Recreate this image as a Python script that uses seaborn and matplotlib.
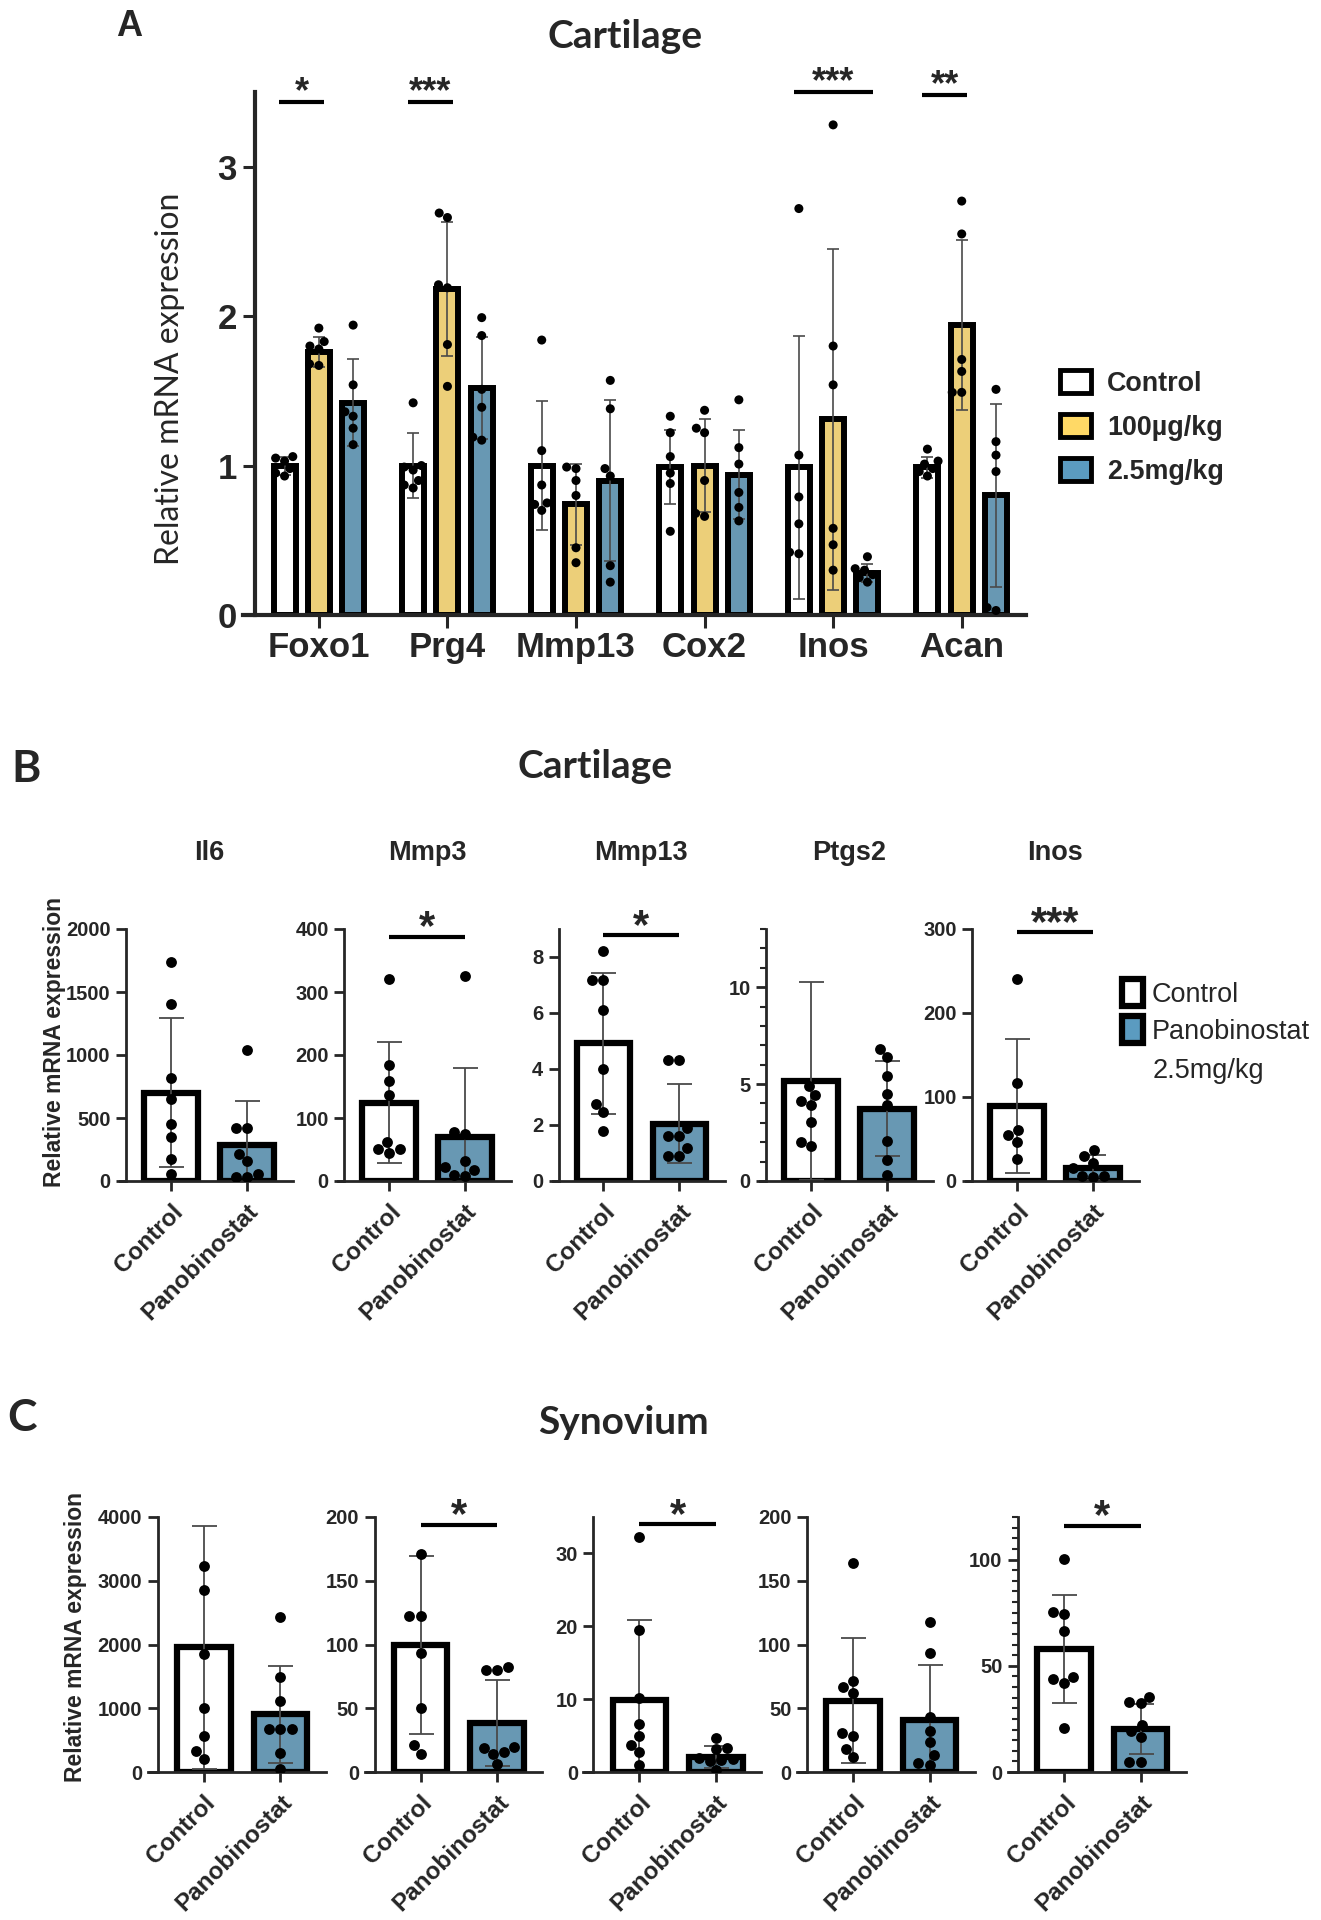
import pandas as pd
import seaborn as sns
import matplotlib.pyplot as plt
from matplotlib.patches import Patch
from matplotlib.ticker import MultipleLocator

# ==========================================
# DATA
# ==========================================

# Panel A - cartilage, three treatment groups
A_GENES = ["Foxo1", "Prg4", "Mmp13", "Cox2", "Inos", "Acan"]
A_GROUPS = ["Control", "100µg/kg", "2.5mg/kg"]

A_MEAN_CTRL = [1.00, 1.00, 1.00, 0.99, 0.99, 0.99]
A_MEAN_LOW = [1.76, 2.18, 0.74, 1.00, 1.31, 1.94]
A_MEAN_HIGH = [1.42, 1.52, 0.90, 0.94, 0.28, 0.80]

A_SD_CTRL = [0.06, 0.22, 0.43, 0.25, 0.88, 0.07]
A_SD_LOW = [0.10, 0.45, 0.27, 0.31, 1.14, 0.57]
A_SD_HIGH = [0.29, 0.34, 0.54, 0.30, 0.06, 0.61]

A_PTS_CTRL = [[1.06, 1.05, 1.03, 0.98, 0.95, 0.93],
              [1.42, 1.00, 0.99, 0.97, 0.90, 0.87, 0.85],
              [1.84, 1.10, 0.87, 0.75, 0.74, 0.70],
              [1.33, 1.22, 1.06, 0.95, 0.88, 0.56],
              [2.72, 1.07, 0.79, 0.61, 0.42, 0.41],
              [1.11, 1.03, 1.01, 0.98, 0.96, 0.93]]
A_PTS_LOW = [[1.92, 1.83, 1.80, 1.78, 1.68, 1.67],
             [2.69, 2.66, 2.21, 2.19, 1.81, 1.53],
             [0.99, 0.98, 0.90, 0.80, 0.45, 0.35],
             [1.37, 1.25, 1.22, 0.90, 0.68, 0.66],
             [3.28, 1.80, 1.54, 0.58, 0.47, 0.30],
             [2.77, 2.55, 1.71, 1.63, 1.49, 1.49]]
A_PTS_HIGH = [[1.94, 1.54, 1.36, 1.33, 1.25, 1.14],
              [1.99, 1.87, 1.51, 1.39, 1.19, 1.17],
              [1.57, 1.38, 0.98, 0.93, 0.33, 0.22],
              [1.44, 1.12, 1.01, 0.82, 0.72, 0.63],
              [0.39, 0.31, 0.30, 0.27, 0.25, 0.22],
              [1.51, 1.16, 1.07, 0.96, 0.05, 0.03]]

A_SIG_GENE = ["Foxo1", "Prg4", "Inos", "Acan"]
A_SIG_PAIR = [(0, 1), (0, 1), (0, 2), (0, 1)]
A_SIG_Y = [3.43, 3.43, 3.50, 3.48]
A_SIG_TEXT = ["*", "***", "***", "**"]

# Panels B/C - control vs panobinostat
PAIR = ["Control", "Panobinostat"]

B_GENES = ["Il6", "Mmp3", "Mmp13", "Ptgs2", "Inos"]
B_MEAN_CTRL = [702, 124, 4.92, 5.17, 89]
B_MEAN_PANO = [288, 70.6, 2.05, 3.74, 16]
B_SD_CTRL = [594, 96, 2.52, 5.1, 80]
B_SD_PANO = [349, 108, 1.42, 2.44, 15]
B_PTS_CTRL = [[1738, 1403, 815, 650, 454, 349, 178, 55],
              [320, 184, 158, 137, 62, 51, 51, 45],
              [8.21, 7.18, 7.18, 6.10, 3.99, 2.74, 2.46, 1.79],
              [4.90, 4.43, 4.14, 3.91, 3.05, 2.02, 1.78],
              [240, 117, 61, 54.5, 46.6, 26]]
B_PTS_PANO = [[1038, 422, 422, 218, 157, 55, 34, 34],
              [325, 78, 74, 31, 22, 18, 10, 8],
              [4.32, 4.32, 1.90, 1.61, 1.61, 1.19, 0.89, 0.89],
              [6.81, 6.38, 5.40, 4.47, 3.91, 2.07, 1.09, 0.31],
              [37, 30, 22, 15, 6, 6, 5]]
B_YMAX = [2000, 400, 9, 13, 300]
B_YSTEP = [500, 100, 2, 5, 100]
B_YMINOR = [None, None, None, 1, None]
B_SIG_Y = [None, 388, 8.77, None, 296]
B_SIG_TEXT = [None, "*", "*", None, "***"]

C_MEAN_CTRL = [1953, 99.5, 9.85, 55.8, 57.8]
C_MEAN_PANO = [909, 38.4, 2.06, 41, 20.3]
C_SD_CTRL = [1900, 70, 10.95, 49, 25.5]
C_SD_PANO = [760, 34, 1.5, 42.6, 11.7]
C_PTS_CTRL = [[3226, 2862, 1849, 1003, 561, 327, 197],
              [171, 122, 122, 93, 50, 21, 14],
              [32.2, 19.5, 10.1, 6.6, 4.9, 3.7, 2.7, 1.0],
              [164, 71.4, 67, 62.3, 30.4, 28, 18.2, 11.7],
              [100.3, 75.5, 74.5, 66.4, 44.8, 43.75, 41.7, 20.6]]
C_PTS_PANO = [[2431, 1486, 1107, 680, 680, 680, 291, 42],
              [82, 80, 80, 20, 19, 16, 14, 6],
              [4.6, 3.3, 3.1, 1.9, 1.8, 1.6, 1.5, 0.23],
              [118, 93, 43, 32.5, 23.4, 13.5, 7, 5.7],
              [35.5, 32.8, 32.3, 21.9, 19.5, 16.4, 4.7, 4.7]]
C_YMAX = [4000, 200, 35, 200, 120]
C_YSTEP = [1000, 50, 10, 50, 50]
C_YMINOR = [None, None, None, None, 5]
C_SIG_Y = [None, 194, 34, None, 116]
C_SIG_TEXT = [None, "*", "*", None, "*"]

# ==========================================
# STYLE / LAYOUT
# ==========================================
W, H = 1321, 1920
WHITE = "#FFFFFF"
YELLOW = "#FFD966"
BLUE = "#5B9BC0"
ERR_COLOR = "#4a4a4a"
TITLE_FONT = ["Lato", "DejaVu Sans"]

sns.set_theme(style="ticks")
plt.rcParams['font.family'] = ['Liberation Sans', 'DejaVu Sans']
plt.rcParams['font.weight'] = 'bold'


def rect(left, top, right, bottom):
    return [left / W, 1 - bottom / H, (right - left) / W, (bottom - top) / H]


def bold_ticks(ax):
    plt.setp(ax.get_xticklabels() + ax.get_yticklabels(), fontweight="bold")


def add_sig(ax, x0, x1, y, text, lw, size, lift):
    ax.plot([x0, x1], [y, y], color="black", lw=lw,
            solid_capstyle="butt", clip_on=False, zorder=4)
    ax.annotate(text, xy=((x0 + x1) / 2, y), xytext=(0, lift),
                textcoords="offset points", ha="center", va="baseline",
                fontsize=size, annotation_clip=False)


def panel_a(fig):
    ax = fig.add_axes(rect(243, 92, 1026, 615))

    rows = []
    for grp, means in zip(A_GROUPS, [A_MEAN_CTRL, A_MEAN_LOW, A_MEAN_HIGH]):
        for gene, m in zip(A_GENES, means):
            rows.append({"gene": gene, "group": grp, "value": m})
    bar_df = pd.DataFrame(rows)

    pts = []
    for grp, lists in zip(A_GROUPS, [A_PTS_CTRL, A_PTS_LOW, A_PTS_HIGH]):
        for gene, vals in zip(A_GENES, lists):
            for v in vals:
                pts.append({"gene": gene, "group": grp, "value": v})
    pts_df = pd.DataFrame(pts)

    sns.barplot(data=bar_df, x="gene", y="value", hue="group",
                order=A_GENES, hue_order=A_GROUPS,
                palette=[WHITE, YELLOW, BLUE], width=0.8, gap=0.36,
                edgecolor="black", linewidth=4.3, errorbar=None,
                legend=False, ax=ax, zorder=1)

    # SD error bars on top of the bars (patches are hue-major)
    sds = A_SD_CTRL + A_SD_LOW + A_SD_HIGH
    for p, sd in zip(ax.patches, sds):
        ax.errorbar(p.get_x() + p.get_width() / 2, p.get_height(), yerr=sd,
                    fmt="none", ecolor=ERR_COLOR, elinewidth=1.2,
                    capsize=4.3, capthick=1.2, zorder=2)

    sns.swarmplot(data=pts_df, x="gene", y="value", hue="group",
                  order=A_GENES, hue_order=A_GROUPS, dodge=True,
                  palette={g: "black" for g in A_GROUPS}, size=6.5,
                  legend=False, ax=ax, zorder=3)

    ax.set_xlim(-0.59, 5.5)
    ax.set_ylim(0, 3.5)
    ax.spines[["top", "right"]].set_visible(False)
    ax.spines[["left", "bottom"]].set_linewidth(3)
    ax.spines["left"].set_position(("data", -0.5))
    ax.set_yticks([0, 1, 2, 3])
    ax.set_xticks(range(len(A_GENES)), A_GENES)
    ax.tick_params(axis="both", direction="out", width=2.2, labelsize=25)
    ax.tick_params(axis="y", length=8.6, pad=4)
    ax.tick_params(axis="x", length=9.4, pad=2)
    bold_ticks(ax)
    ax.set_xlabel("")
    ax.set_ylabel("Relative mRNA expression", fontsize=23,
                  family=TITLE_FONT, fontweight="normal")
    ax.yaxis.label.set_va("center")
    ax.yaxis.set_label_coords(-0.0932, 0.452)

    step = 0.8 / len(A_GROUPS)
    for gene, (h0, h1), y, txt in zip(A_SIG_GENE, A_SIG_PAIR, A_SIG_Y, A_SIG_TEXT):
        gi = A_GENES.index(gene)
        x0 = gi + (h0 - 1) * step - 0.04
        x1 = gi + (h1 - 1) * step + 0.04
        add_sig(ax, x0, x1, y, txt, lw=3, size=26, lift=0)

    handles = [Patch(facecolor=c, edgecolor="black", linewidth=3.5)
               for c in [WHITE, YELLOW, BLUE]]
    fig.legend(handles, A_GROUPS, loc="upper left",
               bbox_to_anchor=(1060 / W, 1 - 370 / H), frameon=False,
               prop={"weight": "bold", "size": 19.4}, handlelength=1.15,
               handleheight=0.96, handletextpad=0.6, labelspacing=0.63,
               borderpad=0, borderaxespad=0)


def pair_panel(ax, mean_c, mean_p, sd_c, sd_p, pts_c, pts_p,
               ymax, ystep, yminor, sig_y, sig_txt, xlim, spine_x):
    bar_df = pd.DataFrame({"group": PAIR, "value": [mean_c, mean_p]})
    sns.barplot(data=bar_df, x="group", y="value", hue="group",
                order=PAIR, hue_order=PAIR, palette=[WHITE, BLUE],
                width=0.7, edgecolor="black", linewidth=4.5,
                errorbar=None, legend=False, ax=ax, zorder=1)
    for p, sd in zip(ax.patches, [sd_c, sd_p]):
        ax.errorbar(p.get_x() + p.get_width() / 2, p.get_height(), yerr=sd,
                    fmt="none", ecolor=ERR_COLOR, elinewidth=1.3,
                    capsize=9, capthick=1.3, zorder=2)

    pts_df = pd.DataFrame({
        "group": [PAIR[0]] * len(pts_c) + [PAIR[1]] * len(pts_p),
        "value": list(pts_c) + list(pts_p)})
    sns.swarmplot(data=pts_df, x="group", y="value", order=PAIR,
                  color="black", size=7.8, ax=ax, zorder=3)

    ax.set_xlim(*xlim)
    ax.set_ylim(0, ymax)
    ax.yaxis.set_major_locator(MultipleLocator(ystep))
    if yminor:
        ax.yaxis.set_minor_locator(MultipleLocator(yminor))
        ax.tick_params(axis="y", which="minor", length=4.5, width=1.5)
    ax.spines[["top", "right"]].set_visible(False)
    ax.spines[["left", "bottom"]].set_linewidth(2)
    ax.spines["left"].set_position(("data", spine_x))
    ax.set_xticks([0, 1], PAIR, rotation=45, ha="right",
                  rotation_mode="anchor")
    ax.tick_params(axis="x", labelsize=17.5, length=7.5, width=2, pad=6)
    ax.tick_params(axis="y", which="major", labelsize=14.5, length=7.5,
                   width=2, pad=3.6)
    bold_ticks(ax)
    ax.set_xlabel("")
    ax.set_ylabel("")
    if sig_y is not None:
        add_sig(ax, 0, 1, sig_y, sig_txt, lw=3, size=30, lift=-2)


def panel_b(fig):
    lefts = [120, 338, 552.5, 760, 966]
    axes = []
    for i, gene in enumerate(B_GENES):
        ax = fig.add_axes(rect(lefts[i], 929, lefts[i] + 172.5, 1181))
        pair_panel(ax, B_MEAN_CTRL[i], B_MEAN_PANO[i], B_SD_CTRL[i],
                   B_SD_PANO[i], B_PTS_CTRL[i], B_PTS_PANO[i], B_YMAX[i],
                   B_YSTEP[i], B_YMINOR[i], B_SIG_Y[i], B_SIG_TEXT[i],
                   (-0.67, 1.6), -0.59)
        ax.text(0.5, 1 + (929 - 853) / 252, gene,
                transform=ax.get_xaxis_transform(), ha="center",
                va="center", fontsize=19.5, fontweight="bold")
        axes.append(ax)
    axes[0].set_ylabel("Relative mRNA expression", fontsize=16.5,
                       fontweight="bold")
    axes[0].yaxis.label.set_va("center")
    axes[0].yaxis.set_label_coords(-0.379, 0.553)

    handles = [Patch(facecolor=c, edgecolor="black", linewidth=4.5)
               for c in [WHITE, BLUE]]
    fig.legend(handles, PAIR, loc="upper left",
               bbox_to_anchor=(1122 / W, 1 - 979 / H), frameon=False,
               prop={"weight": "normal", "size": 19.5}, handlelength=0.78,
               handleheight=1.15, handletextpad=0.32, labelspacing=0.32,
               borderpad=0, borderaxespad=0)
    fig.text(1152.6 / W, 1 - 1071 / H, "2.5mg/kg", fontsize=19.5,
             fontweight="normal", ha="left", va="center")


def panel_c(fig):
    lefts = [147.8, 364.6, 583.4, 797, 1008]
    axes = []
    for i in range(len(C_MEAN_CTRL)):
        ax = fig.add_axes(rect(lefts[i], 1517, lefts[i] + 177.7, 1772))
        pair_panel(ax, C_MEAN_CTRL[i], C_MEAN_PANO[i], C_SD_CTRL[i],
                   C_SD_PANO[i], C_PTS_CTRL[i], C_PTS_PANO[i], C_YMAX[i],
                   C_YSTEP[i], C_YMINOR[i], C_SIG_Y[i], C_SIG_TEXT[i],
                   (-0.73, 1.59), -0.6)
        axes.append(ax)
    axes[0].set_ylabel("Relative mRNA expression", fontsize=16.5,
                       fontweight="bold")
    axes[0].yaxis.label.set_va("center")
    axes[0].yaxis.set_label_coords(-0.405, 0.53)


def generate_figure():
    fig = plt.figure(figsize=(W / 100, H / 100), dpi=100)
    fig.patch.set_facecolor("white")

    panel_a(fig)
    panel_b(fig)
    panel_c(fig)

    # panel letters and section titles
    fig.text(129.5 / W, 1 - 26 / H, "A", fontsize=26, fontweight="bold",
             ha="center", va="center")
    fig.text(26 / W, 1 - 769 / H, "B", fontsize=32, family=TITLE_FONT,
             fontweight="bold", ha="center", va="center")
    fig.text(22 / W, 1 - 1418 / H, "C", fontsize=32, family=TITLE_FONT,
             fontweight="bold", ha="center", va="center")
    fig.text(625 / W, 1 - 37 / H, "Cartilage", fontsize=28,
             family=TITLE_FONT, fontweight="bold", ha="center", va="center")
    fig.text(595 / W, 1 - 766 / H, "Cartilage", fontsize=28,
             family=TITLE_FONT, fontweight="bold", ha="center", va="center")
    fig.text(623 / W, 1 - 1423 / H, "Synovium", fontsize=28,
             family=TITLE_FONT, fontweight="bold", ha="center", va="center")

    fig.savefig("out.png", dpi=100)


if __name__ == "__main__":
    generate_figure()
